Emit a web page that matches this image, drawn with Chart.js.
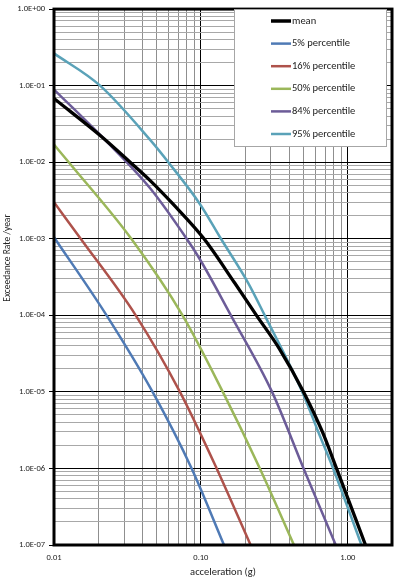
<!DOCTYPE html>
<html lang="en">
<head>
    <meta charset="UTF-8">
    <title>Exceedance Rate vs acceleration</title>
    <script src="https://cdn.jsdelivr.net/npm/chart.js"></script>
    <style>
        body {
            margin: 0;
            padding: 0;
            background: #fff;
        }

        .chart-box {
            width: 396px;
            height: 581px;
            position: relative;
        }
    </style>
</head>
<body>
    <div class="chart-box">
        <canvas id="hazardChart"></canvas>
    </div>
    <script>
// values (acceleration in g, rate per year)
const meanAcc  = [0.01, 0.0215, 0.033, 0.045, 0.0645, 0.105, 0.17, 0.239, 0.344, 0.5, 0.67, 0.838, 1.32];
const meanRate = [6.8e-2, 2.09e-2, 1.0e-2, 5.8e-3, 2.85e-3, 1.0e-3, 2.64e-4, 1.0e-4, 3.6e-5, 1.0e-5, 3.04e-6, 1.0e-6, 1.0e-7];

const p05Acc  = [0.01, 0.0228, 0.0469, 0.0865, 0.1436];
const p05Rate = [1.05e-3, 1.0e-4, 1.0e-5, 1.0e-6, 1.0e-7];

const p16Acc  = [0.01, 0.0152, 0.036, 0.072, 0.128, 0.218];
const p16Rate = [3.0e-3, 1.0e-3, 1.0e-4, 1.0e-5, 1.0e-6, 1.0e-7];

const p50Acc  = [0.01, 0.0126, 0.0336, 0.075, 0.141, 0.252, 0.43];
const p50Rate = [1.7e-2, 1.0e-2, 1.0e-3, 1.0e-4, 1.0e-5, 1.0e-6, 1.0e-7];

const p84Acc  = [0.01, 0.0215, 0.045, 0.08, 0.0984, 0.16, 0.305, 0.5, 0.828];
const p84Rate = [8.9e-2, 2.09e-2, 4.6e-3, 1.0e-3, 5.4e-4, 1.0e-4, 1.0e-5, 1.0e-6, 1.0e-7];

const p95Acc  = [0.01, 0.0206, 0.045, 0.060, 0.0984, 0.137, 0.21, 0.272, 0.49, 0.628, 0.795, 1.24];
const p95Rate = [0.264, 0.1, 1.97e-2, 1.0e-2, 2.85e-3, 1.0e-3, 2.64e-4, 1.0e-4, 1.0e-5, 3.04e-6, 1.0e-6, 1.0e-7];

const seriesLabels = ["mean", "5% percentile", "16% percentile", "50% percentile", "84% percentile", "95% percentile"];

// axis ranges
const xMin = 0.01, xMax = 2;
const yMin = 1e-7, yMax = 1;

const FONT = "Carlito, Lato, 'Open Sans', sans-serif";

function pairs(xs, ys) {
    return xs.map((x, i) => ({ x: x, y: ys[i] }));
}

// 1..9 times every power of ten inside [min, max]
function logTicks(min, max) {
    const ticks = [];
    for (let e = Math.floor(Math.log10(min)); e <= Math.ceil(Math.log10(max)); e++) {
        for (let k = 1; k <= 9; k++) {
            const v = +(k * Math.pow(10, e)).toPrecision(6);
            if (v >= min * 0.999 && v <= max * 1.001) ticks.push({ value: v });
        }
    }
    return ticks;
}

function isDecade(v) {
    const l = Math.log10(v);
    return Math.abs(l - Math.round(l)) < 1e-6;
}

function sciLabel(v) {
    const e = Math.round(Math.log10(v));
    return "1.0E" + (e < 0 ? "-" : "+") + String(Math.abs(e)).padStart(2, "0");
}

// frame round the plot, legend box and the vertical axis title
const framePlugin = {
    id: "frame",
    afterDatasetsDraw(chart) {
        const { ctx, chartArea: a } = chart;
        ctx.save();
        ctx.strokeStyle = "#000";
        ctx.lineWidth = 3;
        ctx.strokeRect(a.left, a.top, a.right - a.left, a.bottom - a.top);
        ctx.restore();
    },
    afterDraw(chart) {
        const ctx = chart.ctx;
        ctx.save();
        // legend
        ctx.fillStyle = "#fff";
        ctx.strokeStyle = "#a6a6a6";
        ctx.lineWidth = 1;
        ctx.fillRect(234.5, 9.5, 152, 137);
        ctx.strokeRect(234.5, 9.5, 152, 137);
        ctx.font = "10.5px " + FONT;
        ctx.textBaseline = "middle";
        ctx.textAlign = "left";
        chart.data.datasets.forEach((ds, i) => {
            const y = 21 + i * 22.6;
            ctx.strokeStyle = ds.borderColor;
            ctx.lineWidth = i === 0 ? 3.5 : 2.5;
            ctx.beginPath();
            ctx.moveTo(271, y);
            ctx.lineTo(291, y);
            ctx.stroke();
            ctx.fillStyle = "#222";
            ctx.fillText(ds.label, 292, y);
        });
        // y title
        ctx.translate(8, 258);
        ctx.rotate(-Math.PI / 2);
        ctx.textAlign = "center";
        ctx.font = "9.5px " + FONT;
        ctx.fillStyle = "#222";
        ctx.fillText("Exceedance Rate /year", 0, 0);
        ctx.restore();
    }
};

const colors = ["#000000", "#4F7AB5", "#AE524B", "#9BB75A", "#6C5C98", "#5AA2B8"];
const accs = [meanAcc, p05Acc, p16Acc, p50Acc, p84Acc, p95Acc];
const rates = [meanRate, p05Rate, p16Rate, p50Rate, p84Rate, p95Rate];

const datasets = seriesLabels.map((label, i) => ({
    label: label,
    data: pairs(accs[i], rates[i]),
    borderColor: colors[i],
    borderWidth: i === 0 ? 3.3 : 2.5,
    pointRadius: 0,
    fill: false,
    cubicInterpolationMode: "monotone",
}));

const ctx = document.getElementById("hazardChart").getContext("2d");
new Chart(ctx, {
    type: "line",
    data: { datasets: datasets },
    options: {
        responsive: true,
        maintainAspectRatio: false,
        animation: false,
        layout: { padding: { top: 3, right: 3, left: 0, bottom: 0 } },
        plugins: {
            legend: { display: false },
            tooltip: { enabled: false },
        },
        scales: {
            x: {
                type: "logarithmic",
                min: xMin,
                max: xMax,
                afterBuildTicks: (scale) => { scale.ticks = logTicks(xMin, xMax); },
                afterFit: (scale) => { scale.height = 36; },
                grid: {
                    color: (c) => isDecade(c.tick.value) ? "#000" : "#8f8f8f",
                    tickColor: "transparent",
                    tickLength: 4,
                },
                border: { display: false },
                ticks: {
                    autoSkip: false,
                    maxRotation: 0,
                    padding: 4,
                    color: "#222",
                    font: { family: FONT, size: 8.5 },
                    callback: (v) => isDecade(v) ? v.toFixed(2) : "",
                },
                title: {
                    display: true,
                    text: "acceleration (g)",
                    color: "#222",
                    font: { family: FONT, size: 10.5 },
                    padding: { top: 0, bottom: 2 },
                },
            },
            y: {
                type: "logarithmic",
                min: yMin,
                max: yMax,
                afterBuildTicks: (scale) => { scale.ticks = logTicks(yMin, yMax); },
                afterFit: (scale) => { scale.width = 54; },
                grid: {
                    color: (c) => isDecade(c.tick.value) ? "#000" : "#a8a8a8",
                    tickColor: (c) => isDecade(c.tick.value) ? "#000" : "transparent",
                    tickLength: 5,
                },
                border: { display: false },
                ticks: {
                    autoSkip: false,
                    padding: 4,
                    color: "#222",
                    font: { family: FONT, size: 8.5 },
                    callback: (v) => isDecade(v) ? sciLabel(v) : "",
                },
            },
        },
    },
    plugins: [framePlugin],
});
    </script>
</body>
</html>
